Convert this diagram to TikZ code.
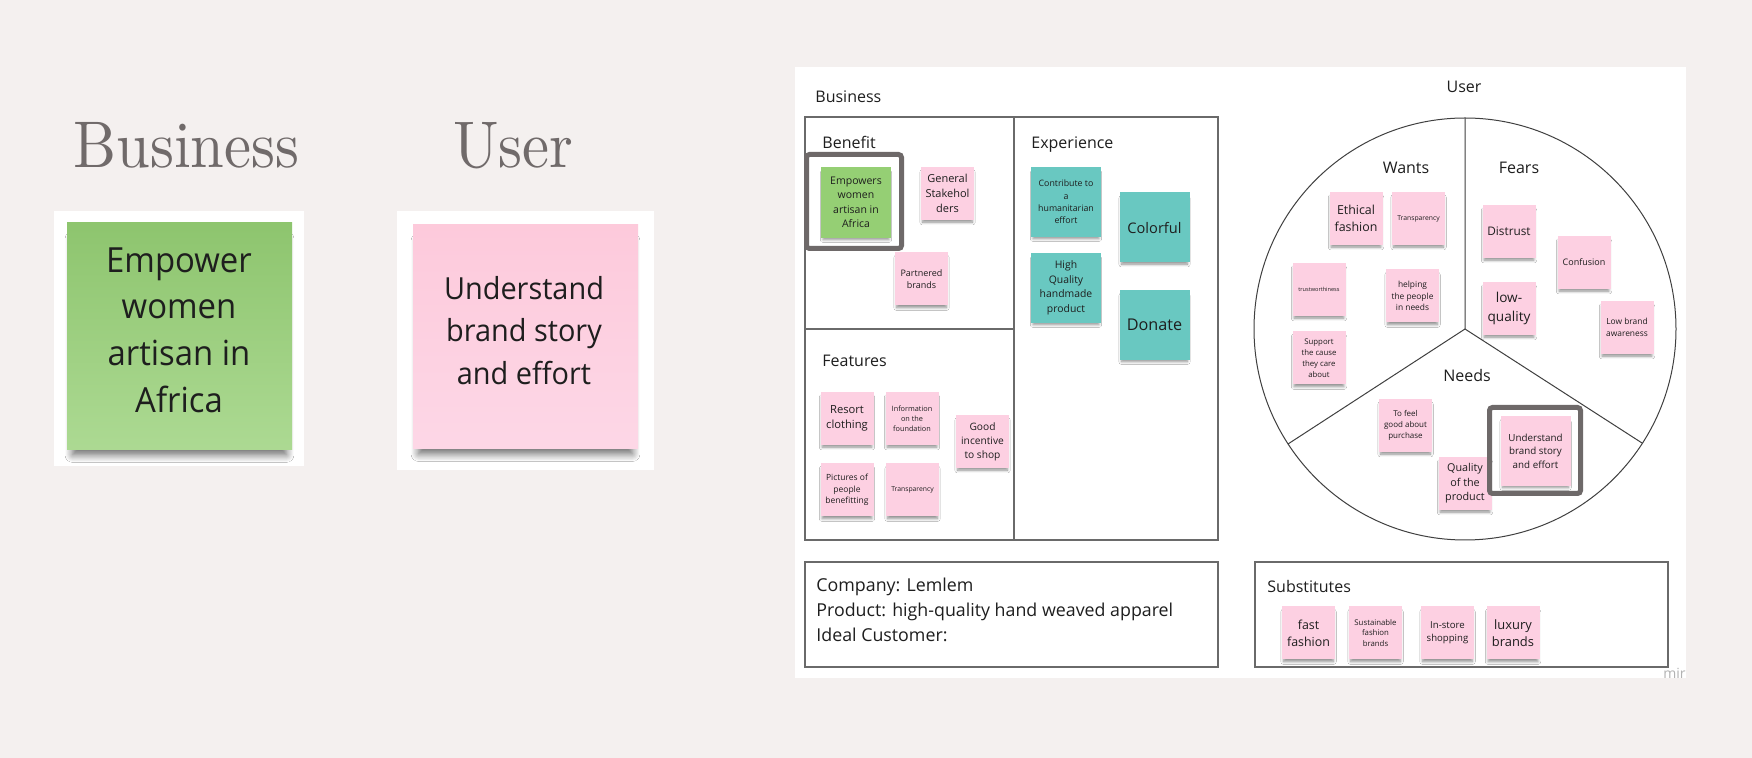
\documentclass[tikz,border=0pt]{standalone}
\usepackage{fontspec}
\setmainfont{Open Sans}
\newfontfamily\titlefont{lmroman10-regular.otf}[FakeStretch=0.92]
\newfontfamily\condfont{Open Sans}[FakeStretch=0.95]
\usetikzlibrary{shadows.blur}
\definecolor{bgc}{HTML}{F4F0EF}
\definecolor{pinkS}{HTML}{FDD0E2}
\definecolor{greenS}{HTML}{95CF74}
\definecolor{tealS}{HTML}{69C8C1}
\definecolor{hlgray}{HTML}{6E6969}
\definecolor{titlegray}{HTML}{706A6A}
\definecolor{linegray}{HTML}{6A6A6A}
\definecolor{inkc}{HTML}{1E1E1E}
\newcommand\fs[2]{\fontsize{#1}{#2}\selectfont}
\tikzset{
  sticky/.style={draw=none, inner sep=0pt, align=center, text=inkc,
    blur shadow={shadow xshift=0pt, shadow yshift=-2pt, shadow scale=0.94,
      shadow blur radius=1.5pt, shadow blur steps=6, shadow opacity=45}},
  sm/.style={sticky, minimum width=26.5pt, minimum height=26.5pt},
  lg/.style={sticky, minimum width=35pt, minimum height=35pt},
  pk/.style={fill=pinkS},
  gr/.style={fill=greenS},
  tl/.style={fill=tealS},
  lbl/.style={font=\fs{8}{10}, inner sep=0pt, text=inkc},
  boxline/.style={draw=linegray, line width=0.55pt},
  hl/.style={draw=hlgray, line width=2.5pt, rounded corners=1.5pt, inner sep=0pt},
  title/.style={font=\titlefont\fs{33}{40}, text=titlegray, inner sep=0pt, anchor=base west},
  bigshadow/.style={blur shadow={shadow xshift=0pt, shadow yshift=-5.5pt, shadow scale=0.95, shadow blur radius=4pt, shadow blur steps=10, shadow opacity=60}},
}
\begin{document}
\begin{tikzpicture}[x=0.5pt, y=-0.5pt]
\useasboundingbox (0,0) rectangle (1752,758);
\fill[bgc] (0,0) rectangle (1752,758);

% ---------- left part ----------
\node[title] (tbus) at (73,168) {Business};
\node[title] (tuser) at (453,168) {User};

\node[fill=white, inner sep=0pt, minimum width=125pt, minimum height=127.5pt] (gback) at (179,338.5) {};
\node[inner sep=0pt, minimum width=112.5pt, minimum height=113.5pt, top color=greenS!95!black, bottom color=greenS!78!white, bigshadow] (gbig) at (179.5,336.5) {};
\node[font=\condfont\fs{17.3}{23.3}, align=center, text=inkc, inner sep=0pt] (gtxt) at (179,330) {Empower\\women\\artisan in\\Africa};

\node[fill=white, inner sep=0pt, minimum width=128.5pt, minimum height=129.5pt] (pback) at (525.5,340.5) {};
\node[inner sep=0pt, minimum width=112.5pt, minimum height=112pt, top color=pinkS!97!red, bottom color=pinkS!85!white, bigshadow] (pbig) at (525.5,337) {};
\node[font=\condfont\fs{15.2}{21.2}, align=center, text=inkc, inner sep=0pt] (ptxt) at (524,330.5) {Understand\\brand story\\and effort};

% ---------- board ----------
\fill[white] (795,67) rectangle (1686,678);
\node[font=\fs{7}{8}, text=black!30, inner sep=0pt, anchor=base west] (miro) at (1663,679) {mir};

\node[lbl, anchor=base west] (lbus) at (815,103) {Business};
\draw[boxline] (805,117) rectangle (1218,540);
\draw[boxline] (1014,117) -- (1014,540);
\draw[boxline] (805,329) -- (1014,329);
\node[lbl, anchor=base west] (lben) at (822,149) {Benefit};
\node[lbl, anchor=base west] (lexp) at (1031,149) {Experience};
\node[lbl, anchor=base west] (lfea) at (822,367) {Features};

% Benefit
\node[lg, gr, minimum height=35.5pt, font=\fs{5.25}{7.2}] (empw) at (856,202.5) {Empowers\\women\\artisan in\\Africa};
\node[hl, minimum width=47.5pt, minimum height=47pt] (hl1) at (854,201.5) {};
\node[sm, pk, font=\fs{5.5}{7.5}] (gen) at (947.5,193.5) {General\\Stakehol\\ders};
\node[sm, pk, font=\fs{4.5}{6.3}] (part) at (921.5,279) {Partnered\\brands};

% Experience
\node[lg, tl, font=\fs{4.4}{6.2}] (contr) at (1066,202) {Contribute to\\a\\humanitarian\\effort};
\node[lg, tl, font=\fs{7.3}{10}] (color) at (1154.5,227.5) {Colorful};
\node[lg, tl, font=\fs{5.2}{7.3}] (hq) at (1066,288) {High\\Quality\\handmade\\product};
\node[lg, tl, font=\fs{8.1}{11}] (donate) at (1154.5,325) {Donate};

% Features
\node[sm, pk, font=\fs{5.6}{7.5}] (resort) at (847,418.5) {Resort\\clothing};
\node[sm, pk, font=\fs{3.65}{5}] (info) at (912,418.5) {Information\\on the\\foundation};
\node[sm, pk, font=\fs{5.1}{7}] (good) at (982.5,441.5) {Good\\incentive\\to shop};
\node[sm, pk, font=\fs{4.25}{5.85}] (pics) at (847,490) {Pictures of\\people\\benefitting};
\node[sm, pk, font=\fs{3.4}{4.7}] (trans1) at (912.5,490) {Transparency};

% User
\node[lbl, anchor=base] (luser) at (1464,93) {User};
\coordinate (pc) at (1465,329);
\coordinate (ptop) at (1465,118);
\coordinate (pl) at (1288,444);
\coordinate (pr) at (1642,443);
\draw[line width=0.5pt, draw=black!75] (pc) circle[radius=105.5pt];
\draw[line width=0.5pt, draw=black!75] (ptop) -- (pc) -- (pl);
\draw[line width=0.5pt, draw=black!75] (pc) -- (pr);
\node[lbl, anchor=base] (lwants) at (1406,174) {Wants};
\node[lbl, anchor=base] (lfears) at (1519,174) {Fears};
\node[lbl, anchor=base] (lneeds) at (1467,382) {Needs};

% Wants
\node[sm, pk, font=\fs{6.2}{8.5}] (ethical) at (1356,218.5) {Ethical\\fashion};
\node[sm, pk, font=\fs{3.4}{4.7}] (trans2) at (1418.5,218.5) {Transparency};
\node[sm, pk, font=\fs{2.8}{4}] (trust) at (1319,289.5) {trustworthiness};
\node[sm, pk, font=\fs{4.2}{5.75}] (helping) at (1412.5,296) {helping\\the people\\in needs};
\node[sm, pk, font=\fs{3.9}{5.5}] (support) at (1319,358) {Support\\the cause\\they care\\about};

% Fears
\node[sm, pk, font=\fs{5.9}{8}] (distrust) at (1509,231.5) {Distrust};
\node[sm, pk, font=\fs{4.5}{6}] (confusion) at (1584,262.5) {Confusion};
\node[sm, pk, font=\fs{6.8}{9.6}] (lowq) at (1509,308.5) {low-\\quality};
\node[sm, pk, font=\fs{4.2}{6}] (lowbrand) at (1627,327.5) {Low brand\\awareness};

% Needs
\node[sm, pk, font=\fs{4}{5.5}] (feel) at (1405.5,425.5) {To feel\\good about\\purchase};
\node[sm, pk, font=\fs{5.4}{7.25}] (quality) at (1465,483.5) {Quality\\of the\\product};
\node[lg, pk, font=\fs{4.9}{6.75}] (understand) at (1535.5,451) {Understand\\brand story\\and effort};
\node[hl, minimum width=45.5pt, minimum height=43pt] (hl2) at (1535,450.5) {};

% Company box
\draw[boxline] (805,562) rectangle (1218,667);
\node[font=\fs{8.9}{11}, inner sep=0pt, text=inkc, anchor=base west] (co1) at (816,592) {Company: Lemlem};
\node[font=\fs{8.9}{11}, inner sep=0pt, text=inkc, anchor=base west] (co2) at (816,617) {Product: high-quality hand weaved apparel};
\node[font=\fs{8.9}{11}, inner sep=0pt, text=inkc, anchor=base west] (co3) at (816,642) {Ideal Customer:};

% Substitutes box
\draw[boxline] (1255,562) rectangle (1668,667);
\node[lbl, anchor=base west] (lsub) at (1267,593) {Substitutes};
\node[sm, pk, font=\fs{6.2}{8.5}] (fast) at (1308.5,633) {fast\\fashion};
\node[sm, pk, font=\fs{3.9}{5.4}] (sust) at (1375.5,633) {Sustainable\\fashion\\brands};
\node[sm, pk, font=\fs{4.8}{6.6}] (instore) at (1447.5,633) {In-store\\shopping};
\node[sm, pk, font=\fs{6.45}{8.8}] (luxury) at (1513,633) {luxury\\brands};
\end{tikzpicture}
\end{document}
